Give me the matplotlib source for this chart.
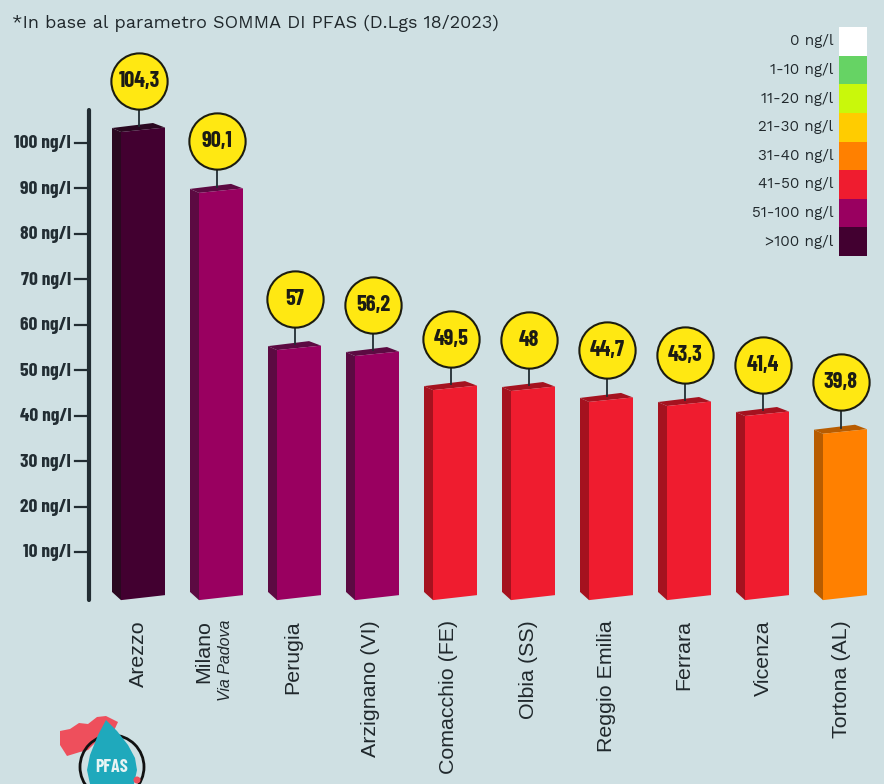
import matplotlib
matplotlib.use("Agg")
import matplotlib.pyplot as plt
from matplotlib.patches import Polygon, Circle

# labels printed in the bubbles, and bar heights as actually drawn in the picture
cities = ["Arezzo", "Milano", "Perugia", "Arzignano (VI)", "Comacchio (FE)", "Olbia (SS)",
          "Reggio Emilia", "Ferrara", "Vicenza", "Tortona (AL)"]
value_labels = ["104,3", "90,1", "57", "56,2", "49,5", "48", "44,7", "43,3", "41,4", "39,8"]
bar_heights = [104.4, 91.0, 56.4, 55.1, 47.6, 47.4, 45.0, 44.1, 41.9, 38.0]
bar_classes = [">100", "51-100", "51-100", "51-100", "41-50", "41-50", "41-50", "41-50", "41-50", "31-40"]

y_ticks = [10, 20, 30, 40, 50, 60, 70, 80, 90, 100]

legend_labels = ["0 ng/l", "1-10 ng/l", "11-20 ng/l", "21-30 ng/l", "31-40 ng/l",
                 "41-50 ng/l", "51-100 ng/l", ">100 ng/l"]
legend_colors = ["#ffffff", "#66d364", "#c9f80b", "#ffcc00", "#ff8000", "#ef1c2f", "#990060", "#420030"]

front_colors = {">100": "#420030", "51-100": "#990060", "41-50": "#ef1c2f", "31-40": "#ff8000"}
side_colors = {">100": "#2a0820", "51-100": "#5c0a42", "41-50": "#a5121f", "31-40": "#b85c00"}

BG = "#cfe0e3"
DARK = "#222d33"
BOLD_NARROW = ["Barlow Condensed", "Liberation Sans", "DejaVu Sans"]
WIDE = ["Work Sans", "Inter", "DejaVu Sans"]
PX_X = 78.0   # pixels per bar step
PX_Y = 4.544  # pixels per ng/l
Y0_PX = 597.4
X0_PX = 139.0

fig = plt.figure(figsize=(8.84, 7.84), dpi=100, facecolor=BG)
plt.rcParams["font.family"] = ["Liberation Sans", "DejaVu Sans"]

# main axes fills the figure, x = bar index, y = ng/l
ax = fig.add_axes([0, 0, 1, 1])
ax.set_xlim(-X0_PX / PX_X, (884 - X0_PX) / PX_X)
ax.set_ylim(-(784 - Y0_PX) / PX_Y, Y0_PX / PX_Y)
ax.axis("off")

for i, h in enumerate(bar_heights):
    cls = bar_classes[i]
    # bar faces, offsets in pixels around the bar position
    lx = i - 27 / PX_X
    fx = i - 18 / PX_X
    rx = i + 26 / PX_X
    px = i + 14 / PX_X
    side = [(lx, 1.2), (fx, -0.6), (fx, h - 9 / PX_Y), (lx, h - 5 / PX_Y)]
    top = [(lx, h - 5 / PX_Y), (px, h), (rx, h - 4.5 / PX_Y), (fx, h - 9 / PX_Y)]
    front = [(fx, -0.6), (rx, 0.5), (rx, h - 4.5 / PX_Y), (fx, h - 9 / PX_Y)]
    ax.add_patch(Polygon(side, color=side_colors[cls], lw=0, zorder=2))
    ax.add_patch(Polygon(top, color=side_colors[cls], lw=0, zorder=2))
    ax.add_patch(Polygon(front, color=front_colors[cls], lw=0, zorder=2))
    # stem and bubble
    bubble_y = h + 42.5 / PX_Y
    ax.plot([i, i], [h - 3 / PX_Y, bubble_y], color=DARK, lw=1.3, zorder=3)
    ax.scatter([i], [bubble_y], s=1640, color="#ffe812", edgecolor="#1c1c10", linewidth=1.5, zorder=4)
    ax.text(i, bubble_y, value_labels[i], ha="center", va="center", fontsize=16,
            fontweight="bold", family=BOLD_NARROW, color="#1c1c14", zorder=5)

# y axis
axis_x = (89 - X0_PX) / PX_X
ax.plot([axis_x, axis_x], [(Y0_PX - 600) / PX_Y, (Y0_PX - 110) / PX_Y], color=DARK, lw=3, zorder=3,
        solid_capstyle="round")
for t in y_ticks:
    ax.plot([(75 - X0_PX) / PX_X, axis_x], [t, t], color=DARK, lw=1.6, zorder=3)
    ax.text((71 - X0_PX) / PX_X, t - 1 / PX_Y, f"{t} ng/l", ha="right", va="center", fontsize=14,
            fontweight="bold", family=BOLD_NARROW, color=DARK)

# category labels
label_shift = [-1, -13, -2, -2, -2, -1, -1, -1, 0, 1]
label_top = (Y0_PX - 620) / PX_Y
for i, name in enumerate(cities):
    ax.text(i + label_shift[i] / PX_X, label_top, name, rotation=90, ha="center", va="top",
            fontsize=15.4, color="#20282c")
ax.text(1 + 8 / PX_X, label_top, "Via Padova", rotation=90, ha="center", va="top",
        fontsize=11.5, style="italic", color="#20282c")

# header note
ax.text(12 / 884, 1 - 23 / 784, "*In base al parametro SOMMA DI PFAS (D.Lgs 18/2023)", transform=ax.transAxes,
        ha="left", va="center", fontsize=13, family=WIDE, color="#20282c")

# colour legend
leg = fig.add_axes([839 / 884, 1 - 256 / 784, 28 / 884, 229 / 784])
leg.barh(range(len(legend_colors)), [1] * len(legend_colors), height=1, color=legend_colors, linewidth=0)
leg.set_xlim(0, 1)
leg.set_ylim(len(legend_colors) - 0.5, -0.5)
leg.axis("off")
for i, lab in enumerate(legend_labels):
    leg.annotate(lab, (0, i), xytext=(-4, 0), textcoords="offset points", ha="right", va="center",
                 fontsize=11, family=WIDE, color="#20282c", annotation_clip=False)

# logo cropped by the lower edge, in pixel coordinates
logo = fig.add_axes([0, 0, 1, 1], facecolor="none")
logo.set_xlim(0, 884)
logo.set_ylim(784, 0)
logo.axis("off")
italy = [(60, 731), (70, 729), (79, 723), (88, 724), (97, 717), (106, 716), (118, 722), (112, 735),
         (100, 738), (88, 750), (80, 752), (67, 756), (60, 745)]
logo.add_patch(Polygon(italy, color="#ee4f5c", lw=0, zorder=2))
logo.add_patch(Circle((112, 767), 32, fill=False, ec="#111111", lw=2, zorder=3))
drop = [(106, 720), (117, 731), (128, 745), (135, 758), (137, 770), (134, 784), (90, 784), (87, 770),
        (90, 755), (98, 735)]
logo.add_patch(Polygon(drop, color="#1fa9bc", lw=0, zorder=4))
logo.add_patch(Circle((137, 780), 3.5, color="#ee4f5c", lw=0, zorder=5))
logo.text(112, 768, "PFAS", ha="center", va="center", fontsize=13, fontweight="bold",
          family=BOLD_NARROW, color="#e8f4f4", zorder=6)
logo.text(15, 788, "ACQUE", ha="left", va="top", fontsize=14, fontweight="bold",
          family=BOLD_NARROW, color="#111111", clip_on=True)

fig.savefig("out.png", dpi=100, facecolor=BG)
